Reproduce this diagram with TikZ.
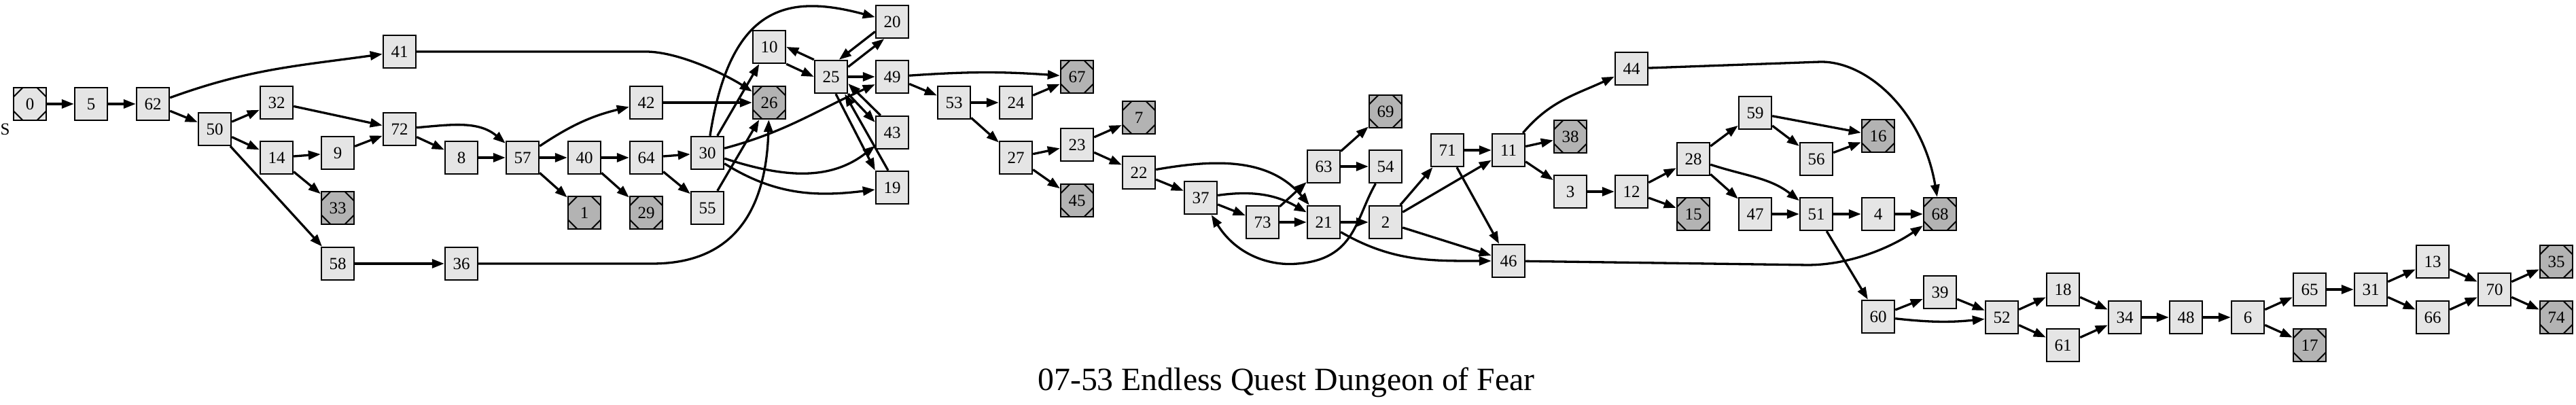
\documentclass[tikz,border=0pt]{standalone}
\usepackage{fontspec}
\setmainfont{Liberation Serif}
\usepackage{xcolor}
\usetikzlibrary{arrows.meta}

\definecolor{boxgray}{HTML}{E5E5E5}
\definecolor{endgray}{HTML}{B3B3B3}

\begin{document}
\begin{tikzpicture}[
            >={Triangle[length=1.8mm, width=1.3mm]},
            box/.style = {rectangle, draw, fill=boxgray, line width=0.24mm,
                         minimum width=4.8mm, minimum height=4.8mm, inner sep=0pt,
                         font=\fontsize{7.1}{8}\selectfont},
            corners/.style = {path picture={
                \foreach \cn/\sx/\sy in {north west/1/-1, north east/-1/-1,
                                         south west/1/1, south east/-1/1}
                    \draw[line width=0.2mm]
                        ([xshift=\sx*1.35mm]path picture bounding box.\cn)
                        -- ([yshift=\sy*1.35mm]path picture bounding box.\cn);}},
            endbox/.style = {box, corners, fill=endgray},
            link/.style = {draw, ->, line width=0.33mm},
            every edge/.style = {link}
        ]
            \useasboundingbox (0,0) rectangle (37.91,5.96);

            \node (n0) at (0.44,4.43) [box, corners,
                label={[inner sep=0pt, label distance=0.5mm,
                        font=\fontsize{7.1}{8}\selectfont]below left:S}] {0};
            \node (n5) at (1.34,4.43) [box] {5};
            \node (n62) at (2.25,4.43) [box] {62};
            \node (n50) at (3.16,4.06) [box] {50};
            \node (n32) at (4.07,4.45) [box] {32};
            \node (n14) at (4.07,3.64) [box] {14};
            \node (n9) at (4.97,3.71) [box] {9};
            \node (n33) at (4.97,2.90) [endbox] {33};
            \node (n58) at (4.97,2.08) [box] {58};
            \node (n41) at (5.88,5.20) [box] {41};
            \node (n72) at (5.88,4.06) [box] {72};
            \node (n8) at (6.79,3.64) [box] {8};
            \node (n36) at (6.79,2.08) [box] {36};
            \node (n57) at (7.69,3.64) [box] {57};
            \node (n40) at (8.60,3.64) [box] {40};
            \node (n1) at (8.60,2.83) [endbox] {1};
            \node (n42) at (9.51,4.45) [box] {42};
            \node (n64) at (9.51,3.64) [box] {64};
            \node (n29) at (9.51,2.83) [endbox] {29};
            \node (n30) at (10.41,3.71) [box] {30};
            \node (n55) at (10.41,2.90) [box] {55};
            \node (n10) at (11.32,5.27) [box] {10};
            \node (n26) at (11.32,4.45) [endbox] {26};
            \node (n25) at (12.23,4.83) [box] {25};
            \node (n20) at (13.13,5.64) [box] {20};
            \node (n49) at (13.13,4.83) [box] {49};
            \node (n43) at (13.13,4.01) [box] {43};
            \node (n19) at (13.13,3.20) [box] {19};
            \node (n53) at (14.04,4.45) [box] {53};
            \node (n24) at (14.95,4.45) [box] {24};
            \node (n27) at (14.95,3.64) [box] {27};
            \node (n67) at (15.85,4.83) [endbox] {67};
            \node (n23) at (15.85,3.83) [box] {23};
            \node (n45) at (15.85,3.01) [endbox] {45};
            \node (n7) at (16.76,4.23) [endbox] {7};
            \node (n22) at (16.76,3.42) [box] {22};
            \node (n37) at (17.67,3.05) [box] {37};
            \node (n73) at (18.58,2.69) [box] {73};
            \node (n63) at (19.48,3.51) [box] {63};
            \node (n21) at (19.48,2.69) [box] {21};
            \node (n69) at (20.39,4.32) [endbox] {69};
            \node (n54) at (20.39,3.51) [box] {54};
            \node (n2) at (20.39,2.69) [box] {2};
            \node (n71) at (21.30,3.75) [box] {71};
            \node (n11) at (22.20,3.75) [box] {11};
            \node (n46) at (22.20,2.12) [box] {46};
            \node (n38) at (23.11,3.95) [endbox] {38};
            \node (n3) at (23.11,3.14) [box] {3};
            \node (n44) at (24.01,4.95) [box] {44};
            \node (n12) at (24.01,3.14) [box] {12};
            \node (n28) at (24.92,3.62) [box] {28};
            \node (n15) at (24.92,2.81) [endbox] {15};
            \node (n59) at (25.83,4.30) [box] {59};
            \node (n47) at (25.83,2.81) [box] {47};
            \node (n56) at (26.73,3.62) [box] {56};
            \node (n51) at (26.73,2.81) [box] {51};
            \node (n16) at (27.64,3.96) [endbox] {16};
            \node (n4) at (27.64,2.81) [box] {4};
            \node (n60) at (27.64,1.30) [box] {60};
            \node (n68) at (28.55,2.81) [endbox] {68};
            \node (n39) at (28.55,1.66) [box] {39};
            \node (n52) at (29.46,1.29) [box] {52};
            \node (n18) at (30.36,1.70) [box] {18};
            \node (n61) at (30.36,0.88) [box] {61};
            \node (n34) at (31.27,1.29) [box] {34};
            \node (n48) at (32.17,1.29) [box] {48};
            \node (n6) at (33.08,1.29) [box] {6};
            \node (n65) at (33.99,1.70) [box] {65};
            \node (n17) at (33.99,0.88) [endbox] {17};
            \node (n31) at (34.89,1.70) [box] {31};
            \node (n13) at (35.80,2.11) [box] {13};
            \node (n66) at (35.80,1.29) [box] {66};
            \node (n70) at (36.71,1.70) [box] {70};
            \node (n35) at (37.62,2.11) [endbox] {35};
            \node (n74) at (37.62,1.29) [endbox] {74};

            \node (title) at (18.93,0.21) [anchor=base,
                font=\fontsize{13.6}{16}\selectfont] {07-53 Endless Quest Dungeon of Fear};

            %
            \path   (n0) edge (n5)    (n5) edge (n62)
                    (n62) edge[out=20, in=188] (n41)    (n62) edge (n50)
                    (n50) edge (n32)    (n50) edge (n14)    (n50) edge (n58)
                    (n32) edge (n72)    (n14) edge (n9)     (n14) edge (n33)
                    (n9) edge (n72)     (n72) edge (n8)     (n72) edge[out=5, in=140] (n57)
                    (n8) edge (n57)     (n58) edge (n36)
                    (n57) edge[bend left=10] (n42)    (n57) edge (n40)    (n57) edge (n1)
                    (n40) edge (n64)    (n40) edge (n29)
                    (n64) edge (n30)    (n64) edge (n55)
                    (n42) edge (n26)    (n55) edge (n26)    (n30) edge (n10)
                    (n30) edge[out=15, in=204] (n49)
                    (n30) edge[out=-18, in=218] (n43)
                    (n30) edge[out=-32, in=187] (n19);

            %
            \path   (n25.north west) edge (n10.east)
                    (n10.south east) edge (n25.west)
                    (n20.210) edge (n25.65)
                    (n25.30) edge (n20.245)
                    (n25) edge (n49)
                    (n25.south east) edge ([yshift=1.5mm]n43.west)
                    ([xshift=0.8mm]n43.north west) edge ([yshift=-1mm]n25.east)
                    ([xshift=0.7mm]n25.south) edge (n19.north west)
                    ([xshift=-0.6mm]n19.north) edge ([xshift=-0.5mm]n25.south east);

            %
            \path   (n49) edge[bend left=4] (n67)    (n49) edge (n53)
                    (n53) edge (n24)    (n53) edge (n27)    (n24) edge (n67)
                    (n27) edge (n23)    (n27) edge (n45)
                    (n23) edge (n7)     (n23) edge (n22)
                    (n22) edge (n37)    (n22) edge[out=10, in=130] (n21)
                    (n37) edge (n73)    (n37) edge[out=8, in=150] (n21)
                    (n73) edge (n21)    (n73) edge (n63)
                    (n63) edge (n69)    (n63) edge (n54)
                    (n21) edge (n2)     (n21) edge[out=-30, in=180] (n46)
                    (n2) edge (n71)     (n2) edge (n11)     (n2) edge (n46)
                    (n71) edge (n11)    (n71) edge (n46)
                    (n11) edge[out=50, in=205] (n44)    (n11) edge (n38)    (n11) edge (n3)
                    (n3) edge (n12)     (n12) edge (n28)    (n12) edge (n15)
                    (n28) edge (n59)    (n28) edge (n47)    (n28) edge[out=-18, in=142] (n51)
                    (n59) edge (n16)    (n59) edge (n56)    (n56) edge (n16)
                    (n47) edge (n51)    (n51) edge (n4)     (n4) edge (n68)
                    (n51) edge (n60);

            %
            \path   (n60) edge (n39)    (n60) edge[bend right=6] (n52)
                    (n39) edge (n52)    (n52) edge (n18)    (n52) edge (n61)
                    (n18) edge (n34)    (n61) edge (n34)
                    (n34) edge (n48)    (n48) edge (n6)
                    (n6) edge (n65)     (n6) edge (n17)     (n65) edge (n31)
                    (n31) edge (n13)    (n31) edge (n66)
                    (n13) edge (n70)    (n66) edge (n70)
                    (n70) edge (n35)    (n70) edge (n74);

            %
            \draw[link] (n41) -- (9.5,5.20) .. controls (10.0,5.20) and (10.7,4.85) .. (n26);
            \draw[link] (n36) -- (9.6,2.08) .. controls (10.9,2.08) and (11.28,3.0) .. (n26);
            \draw[link] (n30) .. controls (10.75,5.9) and (11.6,6.05) .. (n20);
            \draw[link] (n54) .. controls (19.95,2.75) and (19.95,2.15) .. (19.1,2.08)
                              .. controls (18.7,2.04) and (18.2,2.2) .. (n37);
            \draw[link] (n44) -- (26.8,5.05) .. controls (27.5,5.05) and (28.3,4.3) .. (n68);
            \draw[link] (n46) -- (26.6,2.06) .. controls (27.2,2.06) and (27.8,2.3) .. (n68);
        \end{tikzpicture}
\end{document}
